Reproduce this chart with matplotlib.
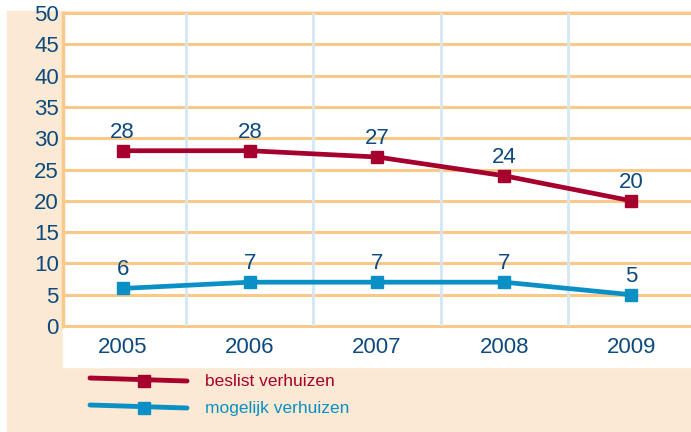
import matplotlib.pyplot as plt
from matplotlib.patches import Rectangle
from matplotlib.lines import Line2D

years = ['2005', '2006', '2007', '2008', '2009']
beslist = [28, 28, 27, 24, 20]
mogelijk = [6, 7, 7, 7, 5]

red = '#A6002F'
blue = '#0A90C4'
txt = '#0D4A7E'
orange = '#F9C98A'
peach = '#FCE9D3'

plt.rcParams['font.family'] = ['Liberation Sans', 'DejaVu Sans']

W, H = 691, 432
fig = plt.figure(figsize=(W / 100, H / 100), dpi=100)

def fx(px):
    return px / W

def fy(py):
    return 1 - py / H

# backgrounds
fig.patches.append(Rectangle((fx(7), 0), 1 - fx(7), fy(11), transform=fig.transFigure,
                             color=peach, zorder=-2))
fig.patches.append(Rectangle((fx(63), fy(367)), 1 - fx(63), fy(13) - fy(367),
                             transform=fig.transFigure, color='white', zorder=-1))

ax = fig.add_axes([fx(63), fy(326), 1 - fx(63), fy(13) - fy(326)])
ax.set_facecolor('none')
x = list(range(len(years)))

ax.set_xlim(-0.47, len(years) - 1 + 0.47)
ax.set_ylim(0, 50)
ax.set_yticks(range(0, 51, 5))
for v in range(0, 51, 5):
    ax.axhline(v, color=orange, lw=2.2, zorder=1, clip_on=False)
for v in [0.5, 1.5, 2.5, 3.5]:
    ax.axvline(v, color='#D3E8F2', lw=2, zorder=1)

for s in ax.spines.values():
    s.set_visible(False)
ax.axvline(-0.47, color=orange, lw=2.5, zorder=2, clip_on=False)

ax.set_xticks(x)
ax.set_xticklabels(years)
ax.tick_params(length=0, labelsize=16, labelcolor=txt)
ax.tick_params(axis='x', pad=8)
ax.tick_params(axis='y', pad=3)

ax.plot(x, beslist, color=red, lw=3.4, marker='s', markersize=8.5, zorder=3, clip_on=False)
ax.plot(x, mogelijk, color=blue, lw=3.4, marker='s', markersize=8.5, zorder=3, clip_on=False)

for xi, v in zip(x, beslist):
    ax.annotate(str(v), (xi, v), xytext=(0, 9.5), textcoords='offset points',
                ha='center', va='baseline', fontsize=16, color=txt)
for xi, v in zip(x, mogelijk):
    ax.annotate(str(v), (xi, v), xytext=(0, 9.5), textcoords='offset points',
                ha='center', va='baseline', fontsize=16, color=txt)

# legend
for py, col, label in [(381, red, 'beslist verhuizen'), (408, blue, 'mogelijk verhuizen')]:
    fig.lines.append(Line2D([fx(90), fx(187)], [fy(py - 3), fy(py)], transform=fig.transFigure,
                            color=col, lw=3.5, solid_capstyle='round'))
    fig.lines.append(Line2D([fx(144)], [fy(py)], transform=fig.transFigure,
                            color=col, marker='s', markersize=9))
    fig.text(fx(205), fy(py), label, color=col, fontsize=12.5, va='center', ha='left')

fig.savefig('out.png', dpi=100)
